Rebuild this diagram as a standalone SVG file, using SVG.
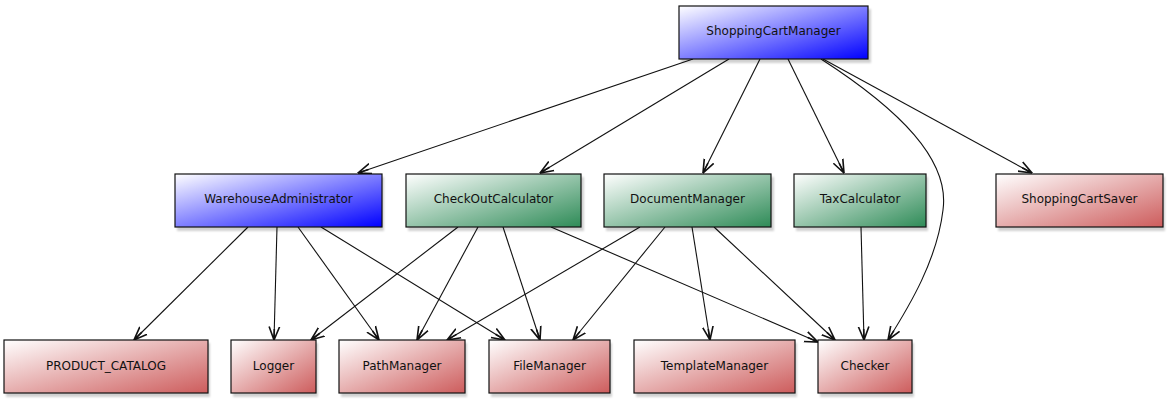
<svg xmlns="http://www.w3.org/2000/svg" width="1169" height="400" viewBox="0 0 1169 400">
<style>
.box{stroke:#111;stroke-width:1.2}
.sh{fill:#000;opacity:0.18}
.lbl{font-family:"DejaVu Sans",sans-serif;font-size:12px;fill:#111;text-anchor:middle;dominant-baseline:central}
.e{fill:none;stroke:#111;stroke-width:1.1;marker-end:url(#ah)}
</style>
<defs>
<linearGradient id="gb" x1="0" y1="0" x2="1" y2="1"><stop offset="0" stop-color="#ffffff"/><stop offset="1" stop-color="#0000ff"/></linearGradient>
<linearGradient id="gg" x1="0" y1="0" x2="1" y2="1"><stop offset="0" stop-color="#ffffff"/><stop offset="1" stop-color="#2e8b57"/></linearGradient>
<linearGradient id="gr" x1="0" y1="0" x2="1" y2="1"><stop offset="0" stop-color="#ffffff"/><stop offset="1" stop-color="#cd5c5c"/></linearGradient>
<filter id="blur" x="-10%" y="-10%" width="120%" height="130%"><feGaussianBlur stdDeviation="1.2"/></filter>
<marker id="ah" markerUnits="userSpaceOnUse" markerWidth="14" markerHeight="14" viewBox="0 0 12 10" refX="11.5" refY="5" orient="auto">
<path d="M0,0.5 L11.5,5 L0,9.5 M11.5,5 L2,5" fill="none" stroke="#111" stroke-width="1.4"/>
</marker>
</defs>
<rect width="1169" height="400" fill="#ffffff"/>
<g id="connectors">
<path class="e" d="M693,59 L358,173"/>
<path class="e" d="M729,59 L540,173"/>
<path class="e" d="M760,59 L703,173"/>
<path class="e" d="M788,59 L844,173"/>
<path class="e" d="M821,59 C900,110 950,160 943,210 C937,260 910,305 888,340"/>
<path class="e" d="M823,59 L1032,173"/>
<path class="e" d="M248,227 L134,340"/>
<path class="e" d="M277,227 L274,340"/>
<path class="e" d="M298,227 L379,340"/>
<path class="e" d="M321,227 L505,340"/>
<path class="e" d="M458,227 L311,340"/>
<path class="e" d="M478,227 L417,340"/>
<path class="e" d="M503,227 L540,340"/>
<path class="e" d="M551,227 L818,342"/>
<path class="e" d="M640,227 L447,340"/>
<path class="e" d="M665,227 L573,340"/>
<path class="e" d="M692,227 L710,340"/>
<path class="e" d="M714,227 L835,340"/>
<path class="e" d="M861,227 L864,340"/>
</g>
<g id="ShoppingCartManager"><rect class="sh" x="681" y="9" width="190" height="54" filter="url(#blur)"/><rect class="box" x="679" y="6" width="189" height="53" fill="url(#gb)"/><text class="lbl" x="773.5" y="31">ShoppingCartManager</text></g>
<g id="WarehouseAdministrator"><rect class="sh" x="177" y="177" width="207" height="54" filter="url(#blur)"/><rect class="box" x="175" y="174" width="207" height="53" fill="url(#gb)"/><text class="lbl" x="278.5" y="199">WarehouseAdministrator</text></g>
<g id="CheckOutCalculator"><rect class="sh" x="408" y="177" width="176" height="54" filter="url(#blur)"/><rect class="box" x="406" y="174" width="175" height="53" fill="url(#gg)"/><text class="lbl" x="493.5" y="199">CheckOutCalculator</text></g>
<g id="DocumentManager"><rect class="sh" x="606" y="177" width="168" height="54" filter="url(#blur)"/><rect class="box" x="604" y="174" width="167" height="53" fill="url(#gg)"/><text class="lbl" x="687.5" y="199">DocumentManager</text></g>
<g id="TaxCalculator"><rect class="sh" x="796" y="177" width="132" height="54" filter="url(#blur)"/><rect class="box" x="794" y="174" width="132" height="53" fill="url(#gg)"/><text class="lbl" x="860" y="199">TaxCalculator</text></g>
<g id="ShoppingCartSaver"><rect class="sh" x="998" y="177" width="167" height="54" filter="url(#blur)"/><rect class="box" x="996" y="174" width="167" height="53" fill="url(#gr)"/><text class="lbl" x="1079.5" y="199">ShoppingCartSaver</text></g>
<g id="PRODUCT_CATALOG"><rect class="sh" x="6" y="343" width="204" height="54" filter="url(#blur)"/><rect class="box" x="4" y="340" width="204" height="53" fill="url(#gr)"/><text class="lbl" x="106" y="366">PRODUCT_CATALOG</text></g>
<g id="Logger"><rect class="sh" x="233" y="343" width="85" height="54" filter="url(#blur)"/><rect class="box" x="231" y="340" width="85" height="53" fill="url(#gr)"/><text class="lbl" x="273.5" y="366">Logger</text></g>
<g id="PathManager"><rect class="sh" x="341" y="343" width="126" height="54" filter="url(#blur)"/><rect class="box" x="339" y="340" width="126" height="53" fill="url(#gr)"/><text class="lbl" x="402" y="366">PathManager</text></g>
<g id="FileManager"><rect class="sh" x="491" y="343" width="121" height="54" filter="url(#blur)"/><rect class="box" x="489" y="340" width="121" height="53" fill="url(#gr)"/><text class="lbl" x="549.5" y="366">FileManager</text></g>
<g id="TemplateManager"><rect class="sh" x="636" y="343" width="161" height="54" filter="url(#blur)"/><rect class="box" x="634" y="340" width="161" height="53" fill="url(#gr)"/><text class="lbl" x="714.5" y="366">TemplateManager</text></g>
<g id="Checker"><rect class="sh" x="820" y="343" width="94" height="54" filter="url(#blur)"/><rect class="box" x="818" y="340" width="94" height="53" fill="url(#gr)"/><text class="lbl" x="865" y="366">Checker</text></g>
</svg>
